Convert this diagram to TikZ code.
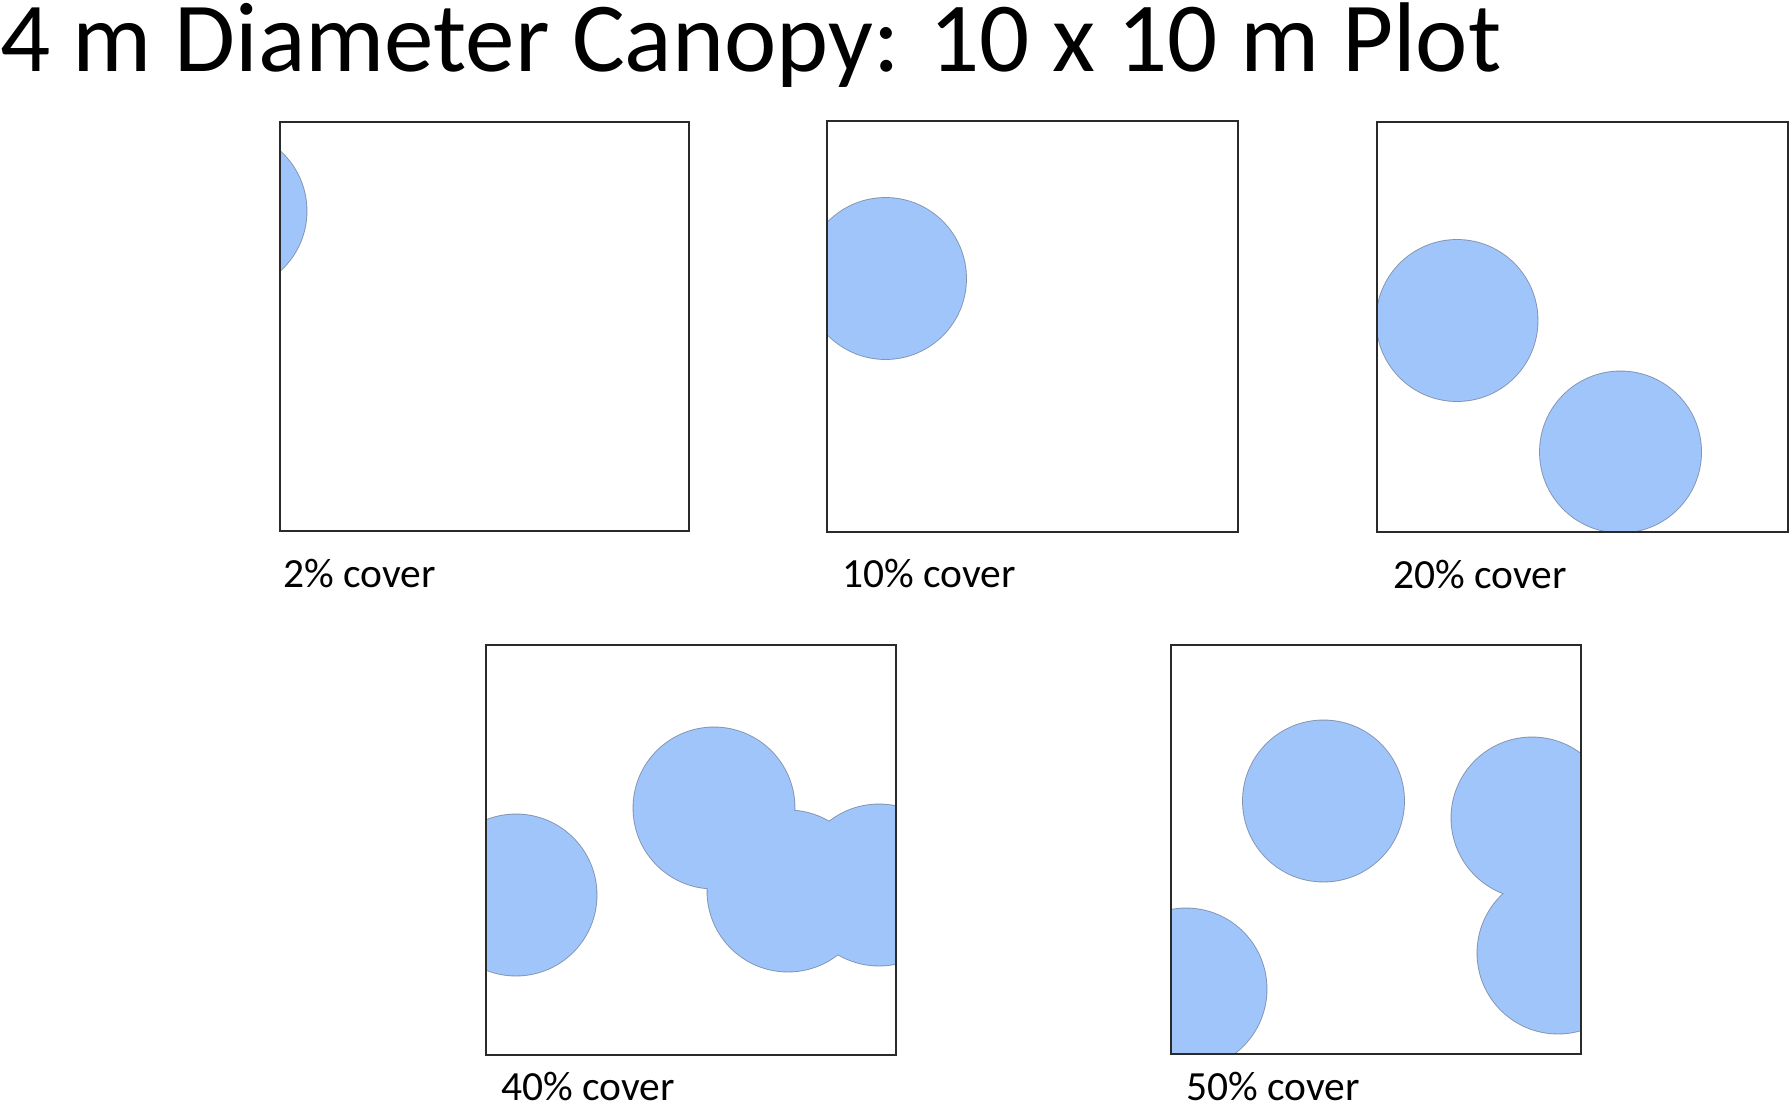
\documentclass[tikz,border=0pt]{standalone}
\usepackage{fontspec}
\setmainfont{Carlito}
\definecolor{canopy}{HTML}{A0C5FA}
\definecolor{canopyedge}{HTML}{8294B0}
\definecolor{boxline}{HTML}{2A2A2A}
\tikzset{
  plotbox/.style={draw=boxline, line width=1.8pt},
  crownline/.style={draw=canopyedge, line width=1.8pt},
  crownfill/.style={fill=canopy},
  caption/.style={anchor=base west, inner sep=0pt, font=\fontsize{41.5}{48}\selectfont},
  heading/.style={anchor=base west, inner sep=0pt, font=\fontsize{99.1}{108}\selectfont}
}
\newcommand{\crowns}[1]{%
  \foreach \p in {#1} {\path[crownline] \p circle (80.5);}
  \foreach \p in {#1} {\path[crownfill] \p circle (80.5);}
}
\begin{document}
\begin{tikzpicture}[x=1pt, y=-1pt]
\useasboundingbox[fill=white] (0,0) rectangle (1790,1106);

\node[heading] (title) at (0,71) {4 m Diameter Canopy: 10 x 10 m Plot};

% plot 1: 2%
\begin{scope}
  \clip (280,122) rectangle (689,531);
  \crowns{(226,211)}
\end{scope}
\path[plotbox] (280,122) rectangle (689,531);
\node[caption] (c1) at (283,587) {2\% cover};

% plot 2: 10%
\begin{scope}
  \clip (827,121) rectangle (1238,532);
  \crowns{(885.5,278.5)}
\end{scope}
\path[plotbox] (827,121) rectangle (1238,532);
\node[caption] (c2) at (842,587) {10\% cover};

% plot 3: 20%
\begin{scope}
  \clip (1377,122) rectangle (1788,532);
  \crowns{(1457,320.5),(1620.5,452)}
\end{scope}
\path[plotbox] (1377,122) rectangle (1788,532);
\node[caption] (c3) at (1393,588) {20\% cover};

% plot 4: 40%
\begin{scope}
  \clip (486,645) rectangle (896,1055);
  \crowns{(516,895),(714,808),(788,891),(879,885)}
\end{scope}
\path[plotbox] (486,645) rectangle (896,1055);
\node[caption] (c4) at (501,1100) {40\% cover};

% plot 5: 50%
\begin{scope}
  \clip (1171,645) rectangle (1581,1054);
  \crowns{(1323.5,801),(1186,989),(1532,818),(1558,953)}
\end{scope}
\path[plotbox] (1171,645) rectangle (1581,1054);
\node[caption] (c5) at (1186,1100) {50\% cover};
\end{tikzpicture}
\end{document}
